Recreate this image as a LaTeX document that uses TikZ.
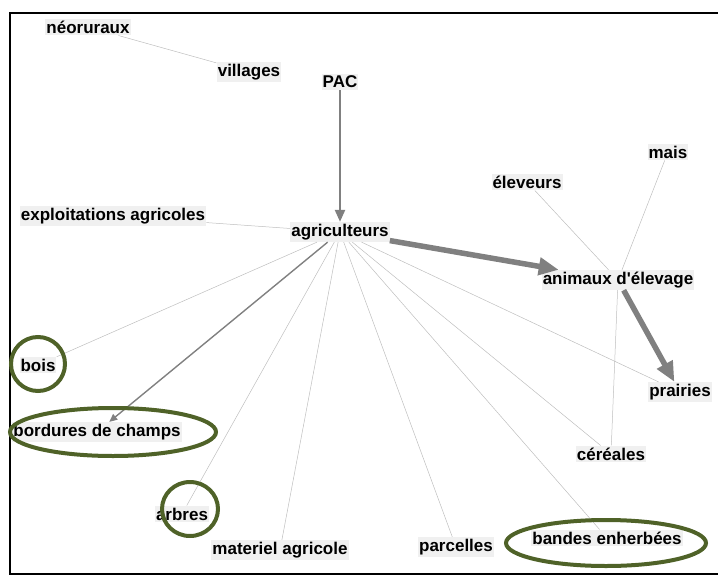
\documentclass[tikz,border=0pt]{standalone}
\usepackage{fontspec}
\setmainfont{Liberation Sans}
\usetikzlibrary{arrows.meta,shapes.geometric}
\definecolor{lbl}{HTML}{F0F0F0}
\definecolor{olive}{HTML}{4F6228}
\definecolor{edgegray}{HTML}{BEBEBE}
\definecolor{arrgray}{HTML}{808080}
\begin{document}
\begin{tikzpicture}[x=1pt,y=-1pt,
  lab/.style={fill=lbl,inner xsep=1pt,inner ysep=2pt,text=black,font=\fontsize{17}{18}\selectfont\bfseries},
  thin/.style={draw=edgegray,line width=0.5pt},
  arrA/.style={draw=arrgray,line width=2.3pt,-{Triangle[length=12pt,width=10pt]}},
  arrB/.style={draw=arrgray,line width=5.5pt,-{Triangle[length=20pt,width=17pt]}},
  arrC/.style={draw=arrgray,line width=1.4pt,-{Triangle[length=8pt,width=7pt]}},
  ring/.style={draw=olive,line width=4pt,ellipse}]
\useasboundingbox (0,0) rectangle (718,576);
\draw[line width=2pt] (719,13) -- (10,13) -- (10,574) -- (719,574);
% nodes
\node[lab] (neo) at (88,27) {néoruraux};
\node[lab] (vil) at (249,72) {villages};
\node[lab] (pac) at (340,82) {PAC};
\node[lab] (ele) at (527,182) {éleveurs};
\node[lab] (mai) at (668,152) {mais};
\node[lab] (exp) at (113,216) {exploitations agricoles};
\node[lab] (agr) at (340,232) {agriculteurs};
\node[lab] (ani) at (618,280) {animaux d\textquotesingle élevage};
\node[lab] (boi) at (38,365) {bois};
\node[lab] (pra) at (680,392) {prairies};
\node[lab] (bor) at (97,432) {bordures de champs};
\node[lab] (cer) at (611,454) {céréales};
\node[lab] (arb) at (182,514) {arbres};
\node[lab] (mat) at (280,550) {materiel agricole};
\node[lab] (par) at (456,547) {parcelles};
\node[lab] (ban) at (607,538) {bandes enherbées};
% thin edges
\draw[thin] (neo) -- (vil);
\draw[thin] (agr) -- (exp);
\draw[thin] (agr) -- (boi);
\draw[thin] (agr) -- (arb);
\draw[thin] (agr) -- (mat);
\draw[thin] (agr) -- (par);
\draw[thin] (agr) -- (ban);
\draw[thin] (agr) -- (cer);
\draw[thin] (agr) -- (pra);
\draw[thin] (ani) -- (ele);
\draw[thin] (ani) -- (mai);
\draw[thin] (ani) -- (cer);
% arrows
\draw[arrA] (pac) -- (agr);
\draw[arrB] (agr) -- (ani);
\draw[arrB] (ani) -- (pra);
\draw[arrC] (agr) -- (bor);
% highlight rings
\node[ring,minimum width=54pt,minimum height=54pt] (r1) at (38,364) {};
\node[ring,minimum width=206pt,minimum height=48pt] (r2) at (113,432) {};
\node[ring,minimum width=56pt,minimum height=54pt] (r3) at (190,509) {};
\node[ring,minimum width=200pt,minimum height=46pt] (r4) at (606,543) {};
\end{tikzpicture}
\end{document}
